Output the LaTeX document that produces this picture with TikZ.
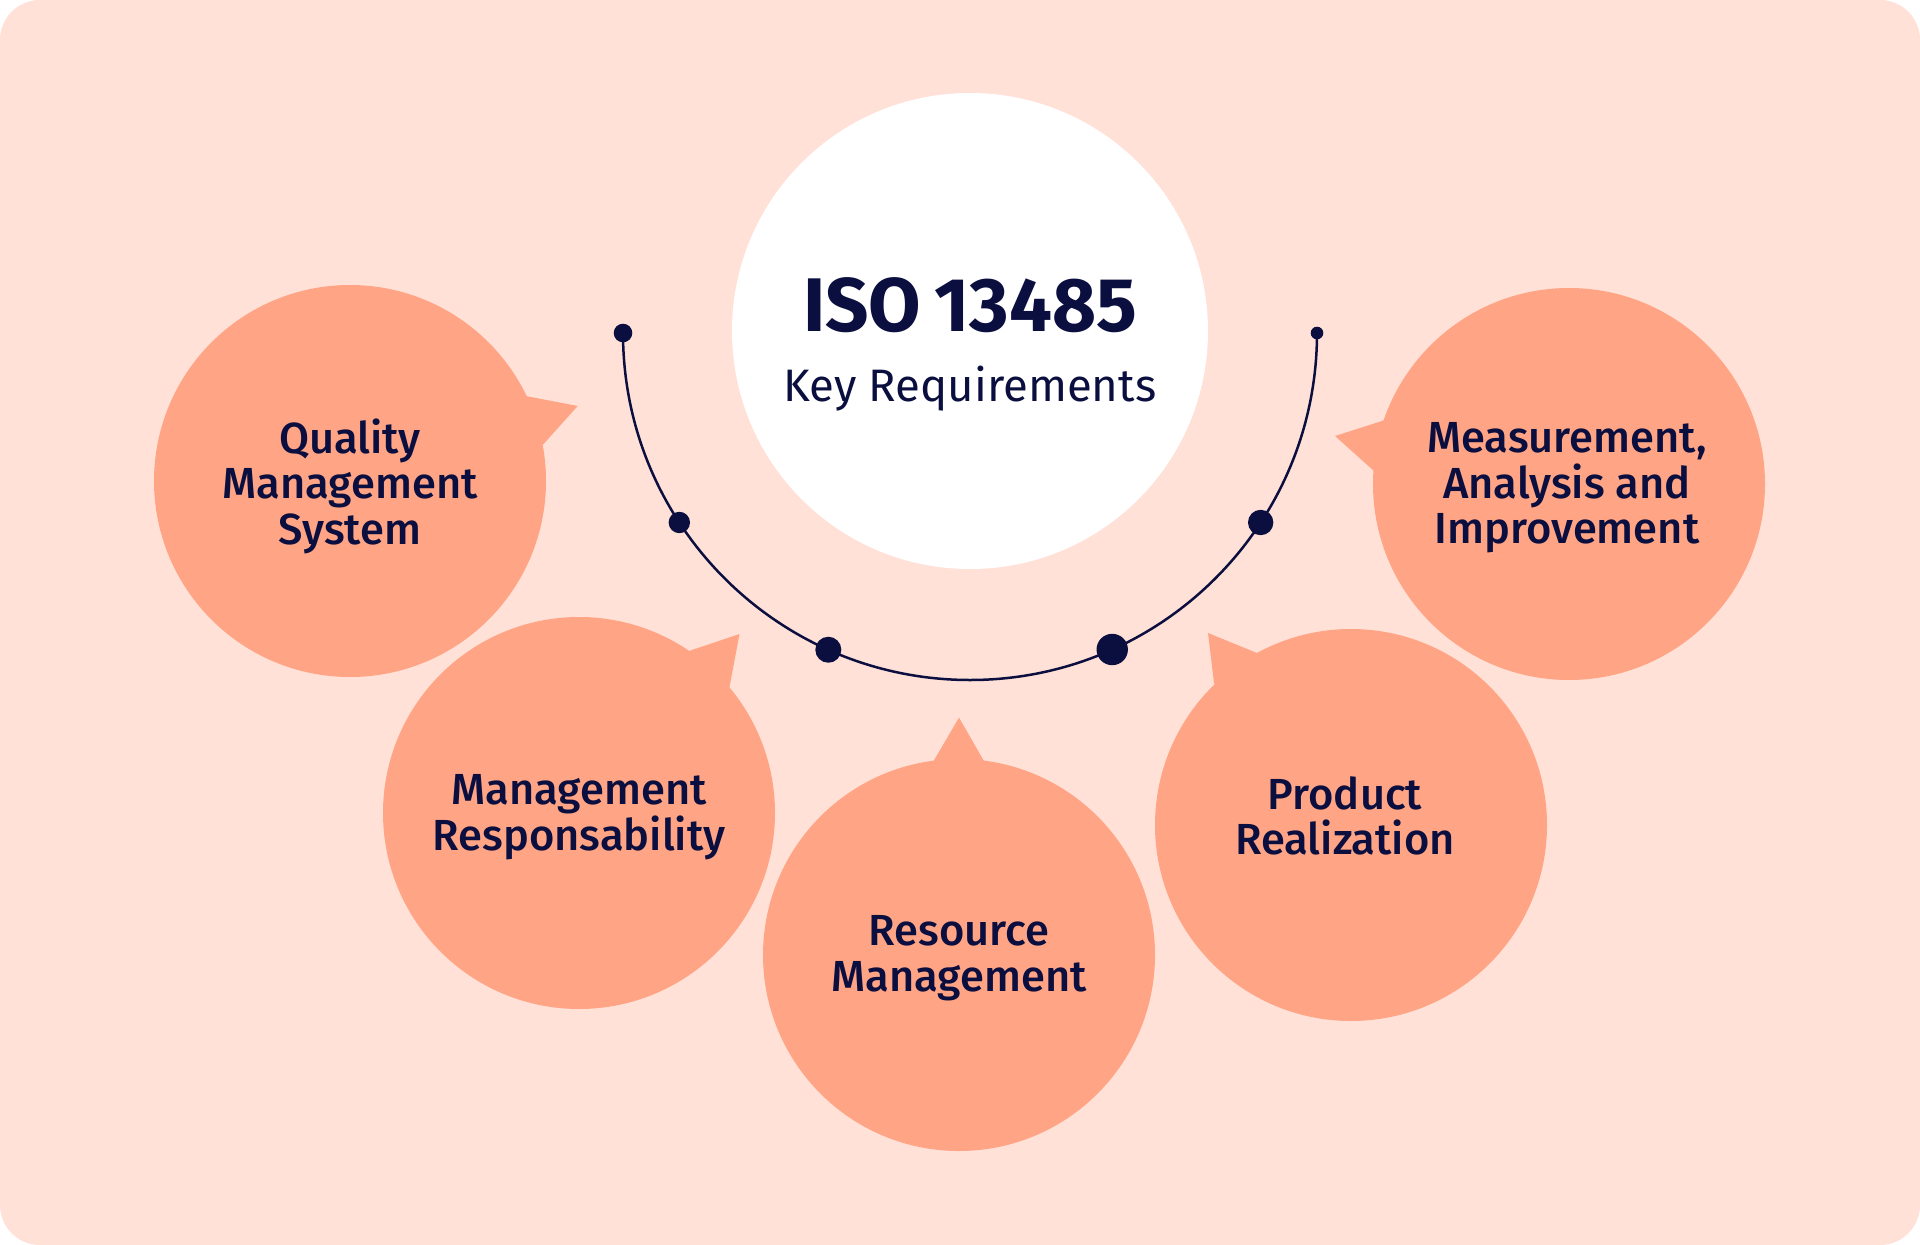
\documentclass[tikz,border=0pt]{standalone}
\usepackage{fontspec}
\setmainfont{Fira Sans}
\newfontfamily\labfont{Fira Sans Medium}
\newfontfamily\titlefont{Fira Sans Bold}
\definecolor{bgpink}{HTML}{FFE1D8}
\definecolor{peach}{HTML}{FFA585}
\definecolor{navy}{HTML}{0B0F3F}
\tikzset{
  bubble/.style={circle, fill=peach, minimum size=392pt, inner sep=0pt},
  bubbletext/.style={align=center, text=navy, inner sep=0pt,
    font=\labfont\fontsize{43.5}{45.5}\selectfont},
  tail/.style={fill=peach},
  dotmark/.style={circle, fill=navy, inner sep=0pt, minimum size=#1},
  arcline/.style={draw=navy, line width=2.5pt},
}
\begin{document}
\begin{tikzpicture}[x=1pt,y=-1pt]
\useasboundingbox (0,0) rectangle (1920,1245);
\fill[white] (0,0) rectangle (1920,1245);
\fill[bgpink, rounded corners=40pt] (0,0) rectangle (1920,1245);

% central circle
\node[circle, fill=white, minimum size=476pt, inner sep=0pt] (center) at (970,331) {};
\node[anchor=base, text=navy, font=\titlefont\fontsize{76}{80}\selectfont] (title) at (970,331) {ISO\kern-5pt\ 13485};
\node[anchor=base, text=navy, font=\fontsize{45.5}{50}\selectfont] (subtitle) at (970,401) {Key Requirements};

% arc with dots
\coordinate (ac) at (970,333);
\draw[arcline] ([shift={(180:347)}]ac) arc[start angle=180, end angle=0, radius=347];
\node[dotmark=18.6pt] (e1) at ([shift={(180:347)}]ac) {};
\node[dotmark=12.6pt] (e2) at ([shift={(0:347)}]ac) {};
\node[dotmark=21.4pt] (d1) at ([shift={(146.9:347)}]ac) {};
\node[dotmark=26pt] (d2) at ([shift={(114.1:347)}]ac) {};
\node[dotmark=31.4pt] (d3) at ([shift={(65.8:347)}]ac) {};
\node[dotmark=25.4pt] (d4) at ([shift={(33.1:347)}]ac) {};

% tails
\fill[tail] (525.7,396) -- (577.7,406) -- (543.3,444.3) -- (350,481) -- cycle;
\fill[tail] (689,651) -- (739.5,634) -- (729.5,687) -- (579,813) -- cycle;
\fill[tail] (933,762) -- (959,717.6) -- (984.5,762) -- (959,955) -- cycle;
\fill[tail] (1257,653) -- (1208,633) -- (1214,683) -- (1351,825) -- cycle;
\fill[tail] (1385,420) -- (1335,436) -- (1374,471) -- (1569,484) -- cycle;

% bubbles
\node[bubble] (qms) at (350,481) {};
\node[bubbletext] (qmst) at (350,486) {Quality\\Management\\System};
\node[bubble] (mr) at (579,813) {};
\node[bubbletext] (mrt) at (579,817) {Management\\Responsability};
\node[bubble] (rm) at (959,955) {};
\node[bubbletext] (rmt) at (959,958) {Resource\\Management};
\node[bubble] (pr) at (1351,825) {};
\node[bubbletext] (prt) at (1345,816) {Product\\Realization};
\node[bubble] (mai) at (1569,484) {};
\node[bubbletext] (mait) at (1567,488) {Measurement,\\Analysis and\\Improvement};
\end{tikzpicture}
\end{document}
